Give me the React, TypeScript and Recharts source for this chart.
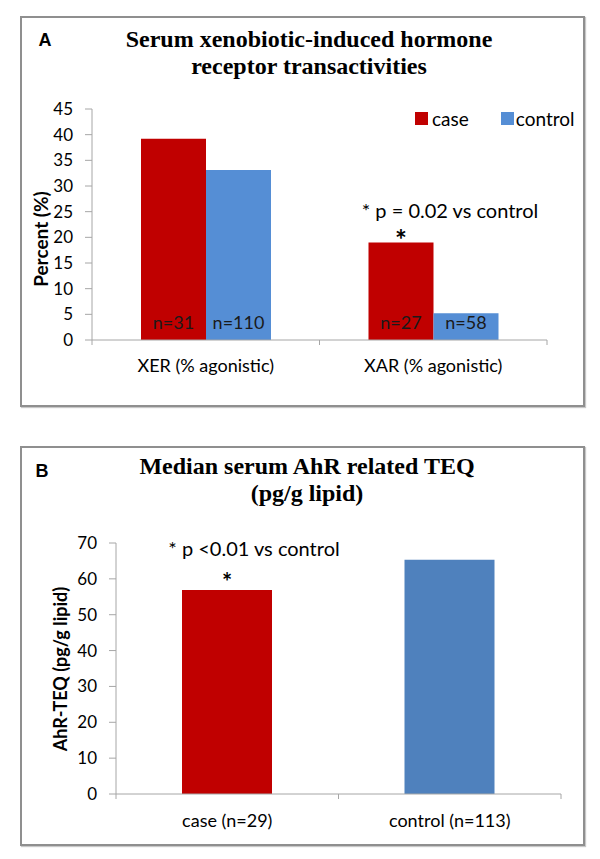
import React from "react";
import { BarChart, Bar, XAxis, YAxis, Legend, LabelList, Cell } from "recharts";

// panel A
const groupsA = ["XER (% agonistic)", "XAR (% agonistic)"];
const caseA = [39.2, 19.0];
const controlA = [33.1, 5.2];
const caseN = ["n=31", "n=27"];
const controlN = ["n=110", "n=58"];
const caseStarA = ["", "*"];
const ticksA = [0, 5, 10, 15, 20, 25, 30, 35, 40, 45];

// panel B
const groupsB = ["case (n=29)", "control (n=113)"];
const valuesB = [56.9, 65.3];
const starB = ["*", ""];
const ticksB = [0, 10, 20, 30, 40, 50, 60, 70];

const RED = "#c00000";
const BLUE_A = "#558ed5";
const BLUE_B = "#4f81bd";
const AXIS = "#a6a6a6";
const SANS = "Lato, 'Open Sans', sans-serif";
const SERIF = "'Liberation Serif', 'Times New Roman', serif";

const dataA = groupsA.map((g, i) => ({
  group: g,
  case: caseA[i],
  control: controlA[i],
  caseN: caseN[i],
  controlN: controlN[i],
  star: caseStarA[i],
}));

const dataB = groupsB.map((g, i) => ({ group: g, value: valuesB[i], star: starB[i] }));
const colorsB = [RED, BLUE_B];

// asterisk over a bar; dy moves the baseline relative to the bar top
const makeStar = (size: number, dy: number) => (props: any) => {
  const { x, y, width, value } = props;
  if (!value) return null;
  return (
    <text x={x + width / 2} y={y + dy} textAnchor="middle" fontSize={size} fontWeight={700} fontFamily={SANS} fill="#000">
      {value}
    </text>
  );
};

// category label with excel-style tick marks at the band edges
const makeCatTick = (gap: number, size: number) => (props: any) => {
  const { x, y, payload, index, visibleTicksCount } = props;
  const off = payload.offset || 0;
  const ay = y - gap;
  return (
    <g>
      <line x1={x - off} x2={x - off} y1={ay} y2={ay + 5} stroke={AXIS} />
      {index === visibleTicksCount - 1 && <line x1={x + off} x2={x + off} y1={ay} y2={ay + 5} stroke={AXIS} />}
      <text x={x} y={y} dy="0.71em" textAnchor="middle" fontSize={size} fontFamily={SANS} fill="#000">
        {payload.value}
      </text>
    </g>
  );
};

function LegendA(props: any) {
  const items = props.payload || [];
  return (
    <div style={{ display: "flex", alignItems: "center", fontFamily: SANS, fontSize: 19, color: "#000" }}>
      {items.map((it: any, i: number) => (
        <div key={it.value} style={{ display: "flex", alignItems: "center", marginLeft: i === 0 ? 0 : 32 }}>
          <span style={{ display: "inline-block", width: 13, height: 13, background: it.color, marginRight: i === 0 ? 4 : 2 }} />
          <span>{it.value}</span>
        </div>
      ))}
    </div>
  );
}

function VLabel({ text, x, y, size }: { text: string; x: number; y: number; size: number }) {
  return (
    <div
      style={{
        position: "absolute",
        left: x,
        top: y,
        transform: "translate(-50%, -50%) rotate(-90deg)",
        whiteSpace: "nowrap",
        fontFamily: SANS,
        fontWeight: 700,
        fontSize: size,
        color: "#000",
      }}
    >
      {text}
    </div>
  );
}

function Txt({ text, x, y, style }: { text: string; x: number; y: number; style: React.CSSProperties }) {
  return (
    <div style={{ position: "absolute", left: x, top: y, transform: "translate(-50%, -50%)", whiteSpace: "nowrap", ...style }}>
      {text}
    </div>
  );
}

const frame: React.CSSProperties = {
  position: "absolute",
  left: 20,
  width: 565,
  boxSizing: "border-box",
  border: "2px solid #8f8f8f",
  boxShadow: "1px 1px 1px #c8c8c8",
};

const titleStyle: React.CSSProperties = { fontFamily: SERIF, fontWeight: 700, fontSize: 24, color: "#000" };
const noteStyle: React.CSSProperties = { fontFamily: SANS, fontSize: 20, color: "#000" };
const panelLetter: React.CSSProperties = { fontFamily: "'Liberation Sans', Arial, sans-serif", fontWeight: 700, fontSize: 18 };

export default function App() {
  return (
    <div style={{ position: "absolute", left: 0, top: 0, width: 600, height: 859, background: "#fff", overflow: "hidden" }}>
      <div style={{ ...frame, top: 16, height: 391 }} />
      <div style={{ ...frame, top: 446, height: 400 }} />

      <div style={{ position: "absolute", left: 0, top: 0 }}>
        <BarChart width={600} height={420} data={dataA} barGap={0} margin={{ top: 109, right: 53, bottom: 50, left: 32 }}>
          <XAxis
            dataKey="group"
            axisLine={{ stroke: AXIS }}
            tickLine={false}
            tickSize={0}
            tickMargin={19}
            tick={makeCatTick(19, 18)}
          />
          <YAxis
            width={60}
            domain={[0, 45]}
            ticks={ticksA}
            interval={0}
            axisLine={{ stroke: AXIS }}
            tickLine={{ stroke: AXIS }}
            tickSize={7}
            tickMargin={12}
            tick={{ fill: "#000", fontSize: 17, fontFamily: SANS }}
          />
          <Legend
            layout="horizontal"
            verticalAlign="middle"
            align="center"
            content={<LegendA />}
            wrapperStyle={{ top: 107, left: 415, right: "auto", width: 170 }}
          />
          <Bar dataKey="case" name="case" fill={RED} barSize={65} isAnimationActive={false}>
            <LabelList dataKey="caseN" position="insideBottom" offset={11} fill="#1a1a1a" fontSize={18} fontFamily={SANS} />
            <LabelList dataKey="star" content={makeStar(28, 8)} />
          </Bar>
          <Bar dataKey="control" name="control" fill={BLUE_A} barSize={65} isAnimationActive={false}>
            <LabelList dataKey="controlN" position="insideBottom" offset={11} fill="#1a1a1a" fontSize={18} fontFamily={SANS} />
          </Bar>
        </BarChart>
      </div>

      <div style={{ position: "absolute", left: 0, top: 440 }}>
        <BarChart width={600} height={400} data={dataB} margin={{ top: 103, right: 39, bottom: 16, left: 56 }}>
          <XAxis
            dataKey="group"
            axisLine={{ stroke: AXIS }}
            tickLine={false}
            tickSize={0}
            tickMargin={20}
            tick={makeCatTick(20, 18)}
          />
          <YAxis
            width={60}
            domain={[0, 70]}
            ticks={ticksB}
            interval={0}
            axisLine={{ stroke: AXIS }}
            tickLine={{ stroke: AXIS }}
            tickSize={7}
            tickMargin={12}
            tick={{ fill: "#000", fontSize: 17, fontFamily: SANS }}
          />
          <Bar dataKey="value" barSize={90} isAnimationActive={false}>
            {dataB.map((d, i) => (
              <Cell key={d.group} fill={colorsB[i]} />
            ))}
            <LabelList dataKey="star" content={makeStar(24, 1)} />
          </Bar>
        </BarChart>
      </div>

      <Txt text="A" x={45} y={40} style={panelLetter} />
      <Txt text="Serum xenobiotic-induced hormone" x={309} y={39} style={titleStyle} />
      <Txt text="receptor transactivities" x={309} y={66} style={titleStyle} />
      <VLabel text="Percent (%)" x={40} y={239} size={19} />
      <Txt text="* p = 0.02 vs control" x={450} y={210} style={noteStyle} />

      <Txt text="B" x={42} y={471} style={panelLetter} />
      <Txt text="Median serum AhR related TEQ" x={307} y={466} style={titleStyle} />
      <Txt text="(pg/g lipid)" x={307} y={493} style={titleStyle} />
      <VLabel text="AhR-TEQ (pg/g lipid)" x={60} y={669} size={18} />
      <Txt text="* p <0.01 vs control" x={254} y={548} style={noteStyle} />
    </div>
  );
}
